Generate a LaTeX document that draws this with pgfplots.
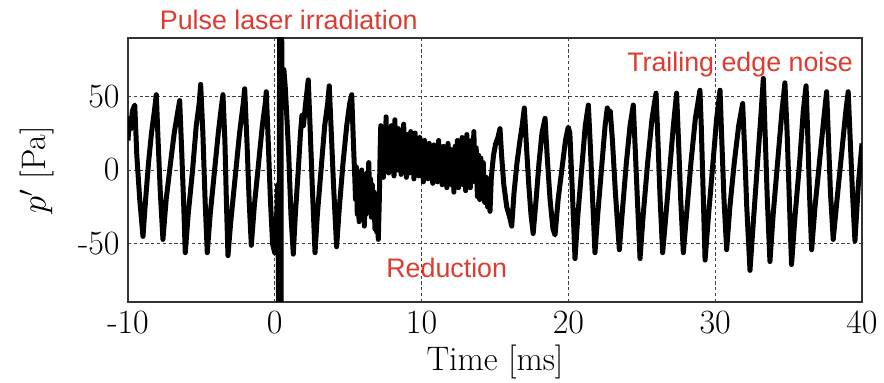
\documentclass[border=0pt]{standalone}
\usepackage{fontspec}
\usepackage{pgfplots}
\pgfplotsset{compat=1.18}
\newfontfamily\annfont{Liberation Sans}
\definecolor{annred}{RGB}{221,59,47}
\begin{document}
\begin{tikzpicture}
\begin{axis}[
  at={(0,0)}, anchor=south west,
  scale only axis, width=367pt, height=132pt,
  xmin=-10, xmax=40, ymin=-89.4, ymax=89.4,
  xtick={-10,0,10,20,30,40}, xticklabels={-10,0,10,20,30,40},
  ytick={-50,0,50}, yticklabels={-50,0,50},
  major tick length=0pt,
  grid=major,
  grid style={black!75, line width=0.45pt, dash pattern=on 1.6pt off 1.3pt},
  axis line style={black!80, line width=0.7pt},
  tick label style={font=\fontsize{17}{19}\selectfont},
  xticklabel style={anchor=base, yshift=-15.8pt, inner sep=0pt},
  yticklabel style={anchor=east, inner sep=0pt, xshift=-4pt},
  label style={font=\fontsize{17}{19}\selectfont},
  xlabel={Time [ms]},
  xlabel style={at={(axis description cs:0.5,0)}, anchor=base, yshift=-34.5pt, inner sep=0pt},
  ylabel={$p'$ [Pa]},
  ylabel style={at={(axis description cs:-0.124,0.5)}, anchor=center, inner sep=0pt},
]
\addplot[black, line width=2.5pt, line join=round, no markers] table {
x y
-10.00 20
-9.90 35
-9.80 28
-9.70 40
-9.54 44
-9.40 10
-9.20 -20
-8.98 -45
-8.80 -20
-8.60 5
-8.40 25
-8.20 40
-8.07 51
-7.95 20
-7.80 -15
-7.62 -47
-7.40 -20
-7.10 5
-6.85 25
-6.60 40
-6.48 47
-6.35 15
-6.20 -25
-6.10 -56
-5.90 -30
-5.60 0
-5.35 30
-5.15 45
-5.05 58
-4.90 25
-4.75 -20
-4.60 -56
-4.40 -30
-4.10 0
-3.85 25
-3.65 42
-3.53 51
-3.40 20
-3.30 -20
-3.19 -58
-3.00 -35
-2.70 -5
-2.40 25
-2.15 45
-2.05 55
-1.90 20
-1.75 -20
-1.60 -51
-1.40 -25
-1.10 5
-0.85 30
-0.65 45
-0.58 53
-0.45 20
-0.30 -20
-0.15 -50
-0.01 -56
0.10 -40
0.20 -10
0.30 -150
0.33 150
0.36 -150
0.39 150
0.42 -150
0.45 150
0.48 70
0.55 60
0.62 68
0.72 55
0.80 40
0.95 10
1.10 -30
1.26 -57
1.40 -30
1.60 0
1.75 25
1.85 37
1.95 30
2.10 45
2.28 61
2.40 30
2.55 -10
2.74 -56
2.90 -30
3.15 0
3.40 30
3.60 45
3.71 57
3.85 25
4.00 -10
4.21 -52
4.40 -25
4.65 5
4.90 30
5.10 45
5.24 51
5.35 20
5.46 -8
5.50 -20
5.56 2
5.62 -30
5.68 -5
5.74 -35
5.80 -10
5.86 -28
5.92 0
5.98 -25
6.04 -8
6.10 -38
6.16 -12
6.22 -30
6.28 -2
6.34 -22
6.40 5
6.46 -18
6.52 -6
6.58 -32
6.64 -10
6.70 -25
6.76 -15
6.82 -40
6.88 -20
6.94 -42
7.00 -30
7.05 -47
7.12 -20
7.18 15
7.22 30
7.28 0
7.34 25
7.40 -5
7.46 20
7.52 2
7.58 36
7.64 5
7.70 28
7.76 -2
7.82 22
7.88 8
7.94 30
8.00 3
8.06 26
8.12 -4
8.18 34
8.24 6
8.30 24
8.36 0
8.42 28
8.48 5
8.54 22
8.60 -3
8.66 27
8.72 4
8.78 31
8.84 2
8.90 20
8.96 -5
9.02 24
9.08 6
9.14 21
9.20 -2
9.26 26
9.32 3
9.40 18
9.48 -6
9.56 25
9.64 0
9.72 19
9.80 -4
9.88 22
9.96 2
10.04 17
10.12 -8
10.20 20
10.28 0
10.36 16
10.44 -6
10.52 18
10.60 -2
10.68 14
10.76 -9
10.84 17
10.92 -3
11.00 15
11.08 -8
11.16 20
11.24 -5
11.32 14
11.40 -10
11.48 16
11.56 -4
11.64 13
11.72 -12
11.80 18
11.88 -6
11.96 14
12.04 -10
12.12 12
12.20 -15
12.28 16
12.36 -8
12.44 20
12.52 -12
12.60 14
12.68 -6
12.76 22
12.84 -10
12.92 16
13.00 -14
13.08 24
13.16 -5
13.24 18
13.32 -12
13.40 20
13.48 -4
13.56 26
13.64 -8
13.72 15
13.80 -18
13.88 10
13.96 -20
14.04 8
14.12 -15
14.20 5
14.30 -22
14.40 -5
14.50 -25
14.60 -15
14.66 -28
14.75 -5
14.90 10
15.05 18
15.20 22
15.34 28
15.45 10
15.60 -10
15.80 -25
16.00 -32
16.14 -38
16.30 -15
16.50 5
16.70 20
16.85 30
17.00 42
17.15 15
17.30 -10
17.45 -30
17.60 -43
17.80 -20
18.00 5
18.20 25
18.41 35
18.55 10
18.75 -20
18.95 -40
19.09 -44
19.30 -20
19.55 0
19.80 20
19.99 29
20.10 25
20.25 -10
20.45 -60
20.65 -30
20.90 0
21.15 30
21.36 44
21.50 15
21.65 -20
21.81 -56
22.00 -30
22.25 0
22.50 30
22.65 42
22.72 38
22.85 40
23.00 20
23.20 -15
23.47 -54
23.70 -25
23.95 5
24.20 30
24.42 44
24.55 15
24.70 -20
24.88 -60
25.10 -30
25.40 5
25.70 35
25.97 52
26.10 20
26.25 -20
26.42 -56
26.65 -30
26.90 0
27.15 30
27.37 52
27.50 20
27.65 -20
27.83 -56
28.05 -30
28.35 5
28.65 35
28.96 54
29.05 30
29.18 -15
29.31 -61
29.55 -30
29.85 5
30.10 35
30.33 54
30.45 20
30.60 -20
30.78 -54
31.00 -25
31.30 5
31.60 30
31.87 45
32.00 15
32.15 -25
32.37 -68
32.60 -35
32.85 0
33.10 35
33.28 62
33.40 25
33.55 -20
33.73 -62
33.95 -30
34.25 5
34.55 40
34.75 59
34.90 25
35.05 -20
35.20 -64
35.45 -30
35.75 5
36.00 40
36.19 57
36.30 25
36.42 -15
36.57 -54
36.80 -25
37.10 5
37.40 35
37.59 53
37.70 25
37.85 -15
38.04 -47
38.30 -20
38.60 10
38.90 40
39.06 53
39.20 20
39.35 -15
39.52 -48
39.75 -10
40.00 18
};
\end{axis}
\node[anchor=base, inner sep=0pt, text=annred, font=\annfont\fontsize{13.4}{15}\selectfont] at (80.4pt,136.35pt) {Pulse laser irradiation};
\node[anchor=base, inner sep=0pt, text=annred, font=\annfont\fontsize{13.4}{15}\selectfont] at (159.35pt,12.35pt) {Reduction};
\node[anchor=base, inner sep=0pt, text=annred, font=\annfont\fontsize{13.4}{15}\selectfont] at (306pt,115.15pt) {Trailing edge noise};
\pgfresetboundingbox
\path[use as bounding box] (-64pt,-40.5pt) rectangle (378pt,151pt);
\end{tikzpicture}
\end{document}
